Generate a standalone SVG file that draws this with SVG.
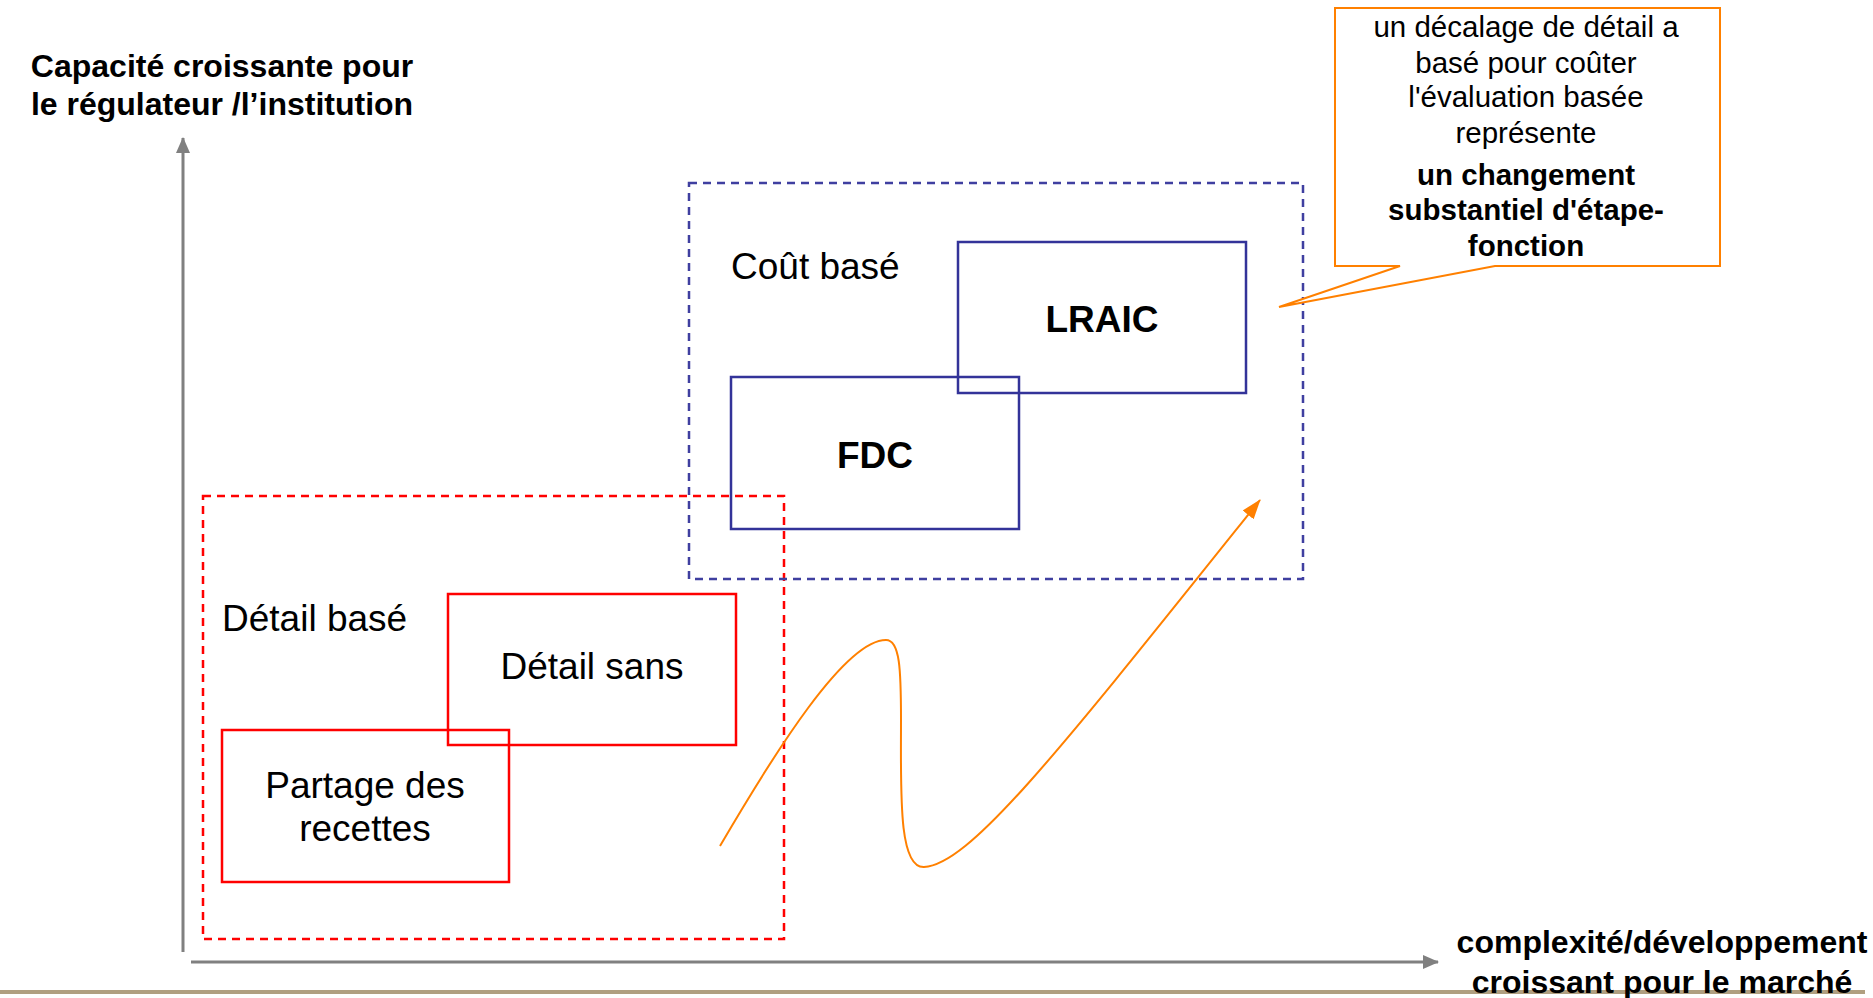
<svg xmlns="http://www.w3.org/2000/svg" width="1873" height="998" viewBox="0 0 1873 998">
<style>
  text { font-family: "Liberation Sans", Arial, sans-serif; fill: #000; }
  .axislbl { font-size: 32px; font-weight: bold; text-anchor: middle; }
  .grp { font-size: 37px; }
  .node { font-size: 37px; text-anchor: middle; }
  .bold { font-weight: bold; }
  .call { font-size: 29.5px; text-anchor: middle; }
  .reddash { fill: none; stroke: #FF0000; stroke-width: 2.5; stroke-dasharray: 8 6; }
  .bluedash { fill: none; stroke: #3F3FA0; stroke-width: 2.5; stroke-dasharray: 8 6; }
  .redbox { fill: none; stroke: #FF0000; stroke-width: 2.5; }
  .bluebox { fill: none; stroke: #333399; stroke-width: 2.5; }
  .axis { stroke: #808080; stroke-width: 3; fill: none; }
</style>
<defs>
  <marker id="grayArrow" markerUnits="userSpaceOnUse" markerWidth="16" markerHeight="16" viewBox="0 0 16 16" refX="15" refY="8" orient="auto">
    <path d="M0,1 L16,8 L0,15 Z" fill="#808080"/>
  </marker>
  <marker id="orangeArrow" markerUnits="userSpaceOnUse" markerWidth="20" markerHeight="16" viewBox="0 0 20 16" refX="19" refY="8" orient="auto">
    <path d="M0,1 L20,8 L0,15 Z" fill="#FF8000"/>
  </marker>
</defs>
<rect width="1873" height="998" fill="#FFFFFF"/>
<line x1="0" y1="992" x2="1865" y2="992" stroke="#B09F80" stroke-width="4"/>
<g id="axes">
  <line class="axis" x1="183" y1="952" x2="183" y2="138" marker-end="url(#grayArrow)"/>
  <line class="axis" x1="191" y1="962" x2="1438" y2="962" marker-end="url(#grayArrow)"/>
</g>
<g id="y-label">
  <text class="axislbl" x="222" y="77">Capacité croissante pour</text>
  <text class="axislbl" x="222" y="115">le régulateur /l’institution</text>
</g>
<g id="x-label">
  <text class="axislbl" x="1662" y="953">complexité/développement</text>
  <text class="axislbl" x="1662" y="993">croissant pour le marché</text>
</g>
<g id="detail-base">
  <rect class="reddash" x="203" y="496" width="581" height="443"/>
  <text class="grp" x="222" y="631">Détail basé</text>
</g>
<g id="cout-base">
  <rect class="bluedash" x="689" y="183" width="614" height="396"/>
  <text class="grp" x="731" y="279">Coût basé</text>
</g>
<g id="detail-sans">
  <rect class="redbox" x="448" y="594" width="288" height="151"/>
  <text class="node" x="592" y="679">Détail sans</text>
</g>
<g id="partage">
  <rect class="redbox" x="222" y="730" width="287" height="152"/>
  <text class="node" x="365" y="798">Partage des</text>
  <text class="node" x="365" y="841">recettes</text>
</g>
<g id="fdc">
  <rect class="bluebox" x="731" y="377" width="288" height="152"/>
  <text class="node bold" x="875" y="468">FDC</text>
</g>
<g id="lraic">
  <rect class="bluebox" x="958" y="242" width="288" height="151"/>
  <text class="node bold" x="1102" y="332">LRAIC</text>
</g>
<g id="callout">
  <path d="M1335,8 H1720 V266 H1495 L1279,307 L1400,266 H1335 Z" fill="#FFFFFF" stroke="#FF8000" stroke-width="2"/>
  <text class="call" x="1526" y="37">un décalage de détail a</text>
  <text class="call" x="1526" y="73">basé pour coûter</text>
  <text class="call" x="1526" y="107">l'évaluation basée</text>
  <text class="call" x="1526" y="143">représente</text>
  <text class="call bold" x="1526" y="185">un changement</text>
  <text class="call bold" x="1526" y="220">substantiel d'étape-</text>
  <text class="call bold" x="1526" y="256">fonction</text>
</g>
<g id="connectors">
  <path d="M720,846 C775,752 845,640 886,640 C900,640 901,670 901,720 C901,790 898,868 924,867 C970,865 1060,750 1260,500" fill="none" stroke="#FF8000" stroke-width="2" marker-end="url(#orangeArrow)"/>
</g>
</svg>
